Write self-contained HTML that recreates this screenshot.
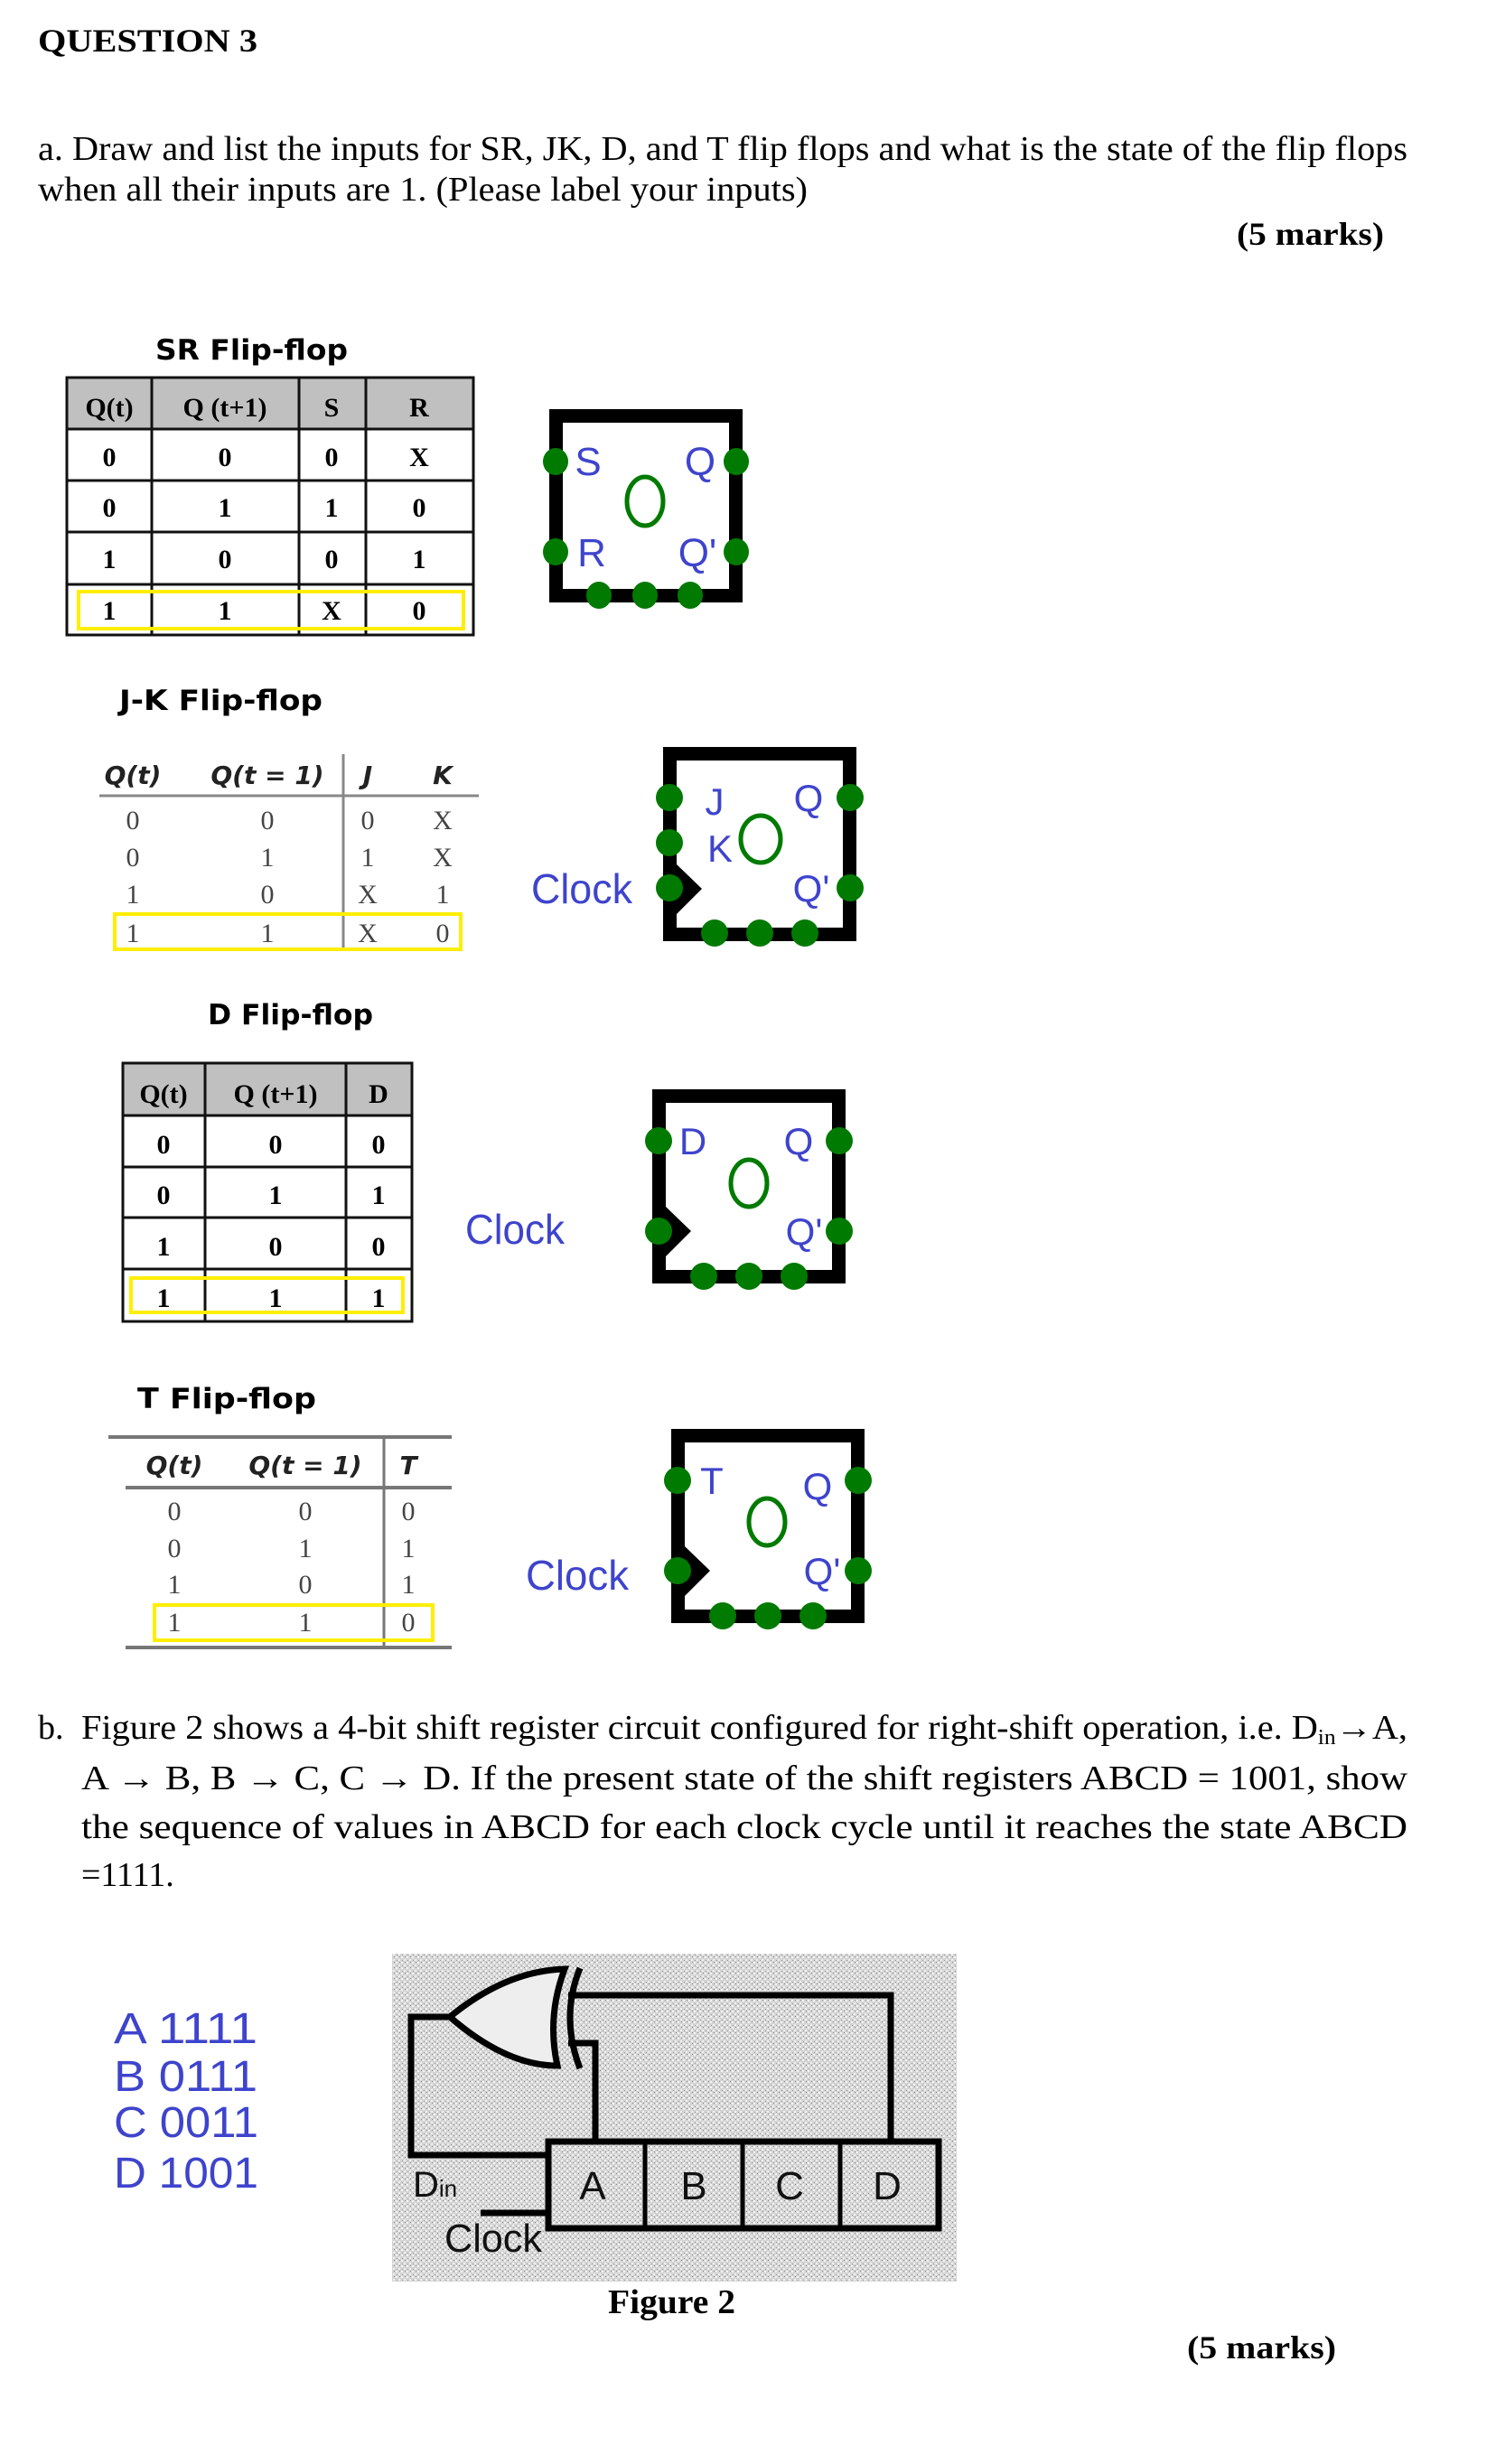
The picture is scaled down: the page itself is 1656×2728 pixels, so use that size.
<!DOCTYPE html>
<html><head><meta charset="utf-8"><style>
html,body{margin:0;padding:0;background:#fff;}
svg{display:block;}
.ser{font-family:"Liberation Serif",serif;}
.san{font-family:"Liberation Sans",sans-serif;}
.dv{font-family:"DejaVu Sans","Liberation Sans",sans-serif;}
</style></head><body>
<svg width="1656" height="2728" viewBox="0 0 1656 2728" xmlns="http://www.w3.org/2000/svg">
<defs>
<pattern id="noise" width="6" height="6" patternUnits="userSpaceOnUse">
<rect width="6" height="6" fill="#d4d4d4"/>
<rect x="0" y="0" width="2" height="2" fill="#f4f4f4"/>
<rect x="3" y="3" width="2" height="2" fill="#f0f0f0"/>
<rect x="4" y="0" width="1" height="1" fill="#888"/>
<rect x="1" y="4" width="1" height="1" fill="#999"/>
</pattern>
</defs>

<!-- Header text -->
<text class="ser" x="42" y="57" font-size="36" font-weight="bold" textLength="243" lengthAdjust="spacingAndGlyphs">QUESTION 3</text>
<text class="ser" x="42" y="177" font-size="38" textLength="1516" lengthAdjust="spacingAndGlyphs">a. Draw and list the inputs for SR, JK, D, and T flip flops and what is the state of the flip flops</text>
<text class="ser" x="42" y="222" font-size="38" textLength="852" lengthAdjust="spacingAndGlyphs">when all their inputs are 1. (Please label your inputs)</text>
<text class="ser" x="1369" y="271" font-size="36" font-weight="bold" textLength="163" lengthAdjust="spacingAndGlyphs">(5 marks)</text>

<!-- SR table -->
<text class="dv" x="172" y="398" font-size="31" font-weight="bold" textLength="213" lengthAdjust="spacingAndGlyphs">SR Flip-flop</text>
<rect x="74" y="418" width="450" height="57" fill="#c0c0c0"/>
<g stroke="#111" stroke-width="3" fill="none">
<rect x="74" y="418" width="450" height="285"/>
<line x1="74" y1="475" x2="524" y2="475"/>
<line x1="74" y1="532" x2="524" y2="532"/>
<line x1="74" y1="589" x2="524" y2="589"/>
<line x1="74" y1="647" x2="524" y2="647"/>
<line x1="168" y1="418" x2="168" y2="703"/>
<line x1="331" y1="418" x2="331" y2="703"/>
<line x1="405" y1="418" x2="405" y2="703"/>
</g>
<rect x="87" y="655" width="426" height="41" fill="none" stroke="#ffee00" stroke-width="4"/>
<g class="ser" font-size="30" font-weight="bold" text-anchor="middle">
<text x="121" y="461">Q(t)</text><text x="249" y="461">Q (t+1)</text><text x="367" y="461">S</text><text x="464" y="461">R</text>
<text x="121" y="516">0</text><text x="249" y="516">0</text><text x="367" y="516">0</text><text x="464" y="516">X</text>
<text x="121" y="572">0</text><text x="249" y="572">1</text><text x="367" y="572">1</text><text x="464" y="572">0</text>
<text x="121" y="629">1</text><text x="249" y="629">0</text><text x="367" y="629">0</text><text x="464" y="629">1</text>
<text x="121" y="686">1</text><text x="249" y="686">1</text><text x="367" y="686">X</text><text x="464" y="686">0</text>
</g>

<!-- SR box -->
<g transform="translate(-5,0)">
<rect x="620.5" y="460.5" width="199" height="199" fill="#fff" stroke="#000" stroke-width="15"/>
<g fill="#007a00">
<ellipse cx="620" cy="511" rx="14" ry="15"/><ellipse cx="620" cy="611" rx="14" ry="15"/>
<ellipse cx="820" cy="511" rx="14" ry="15"/><ellipse cx="820" cy="611" rx="14" ry="15"/>
<ellipse cx="668" cy="659" rx="14" ry="15"/><ellipse cx="719" cy="659" rx="14" ry="15"/><ellipse cx="769" cy="659" rx="14" ry="15"/>
</g>
<ellipse cx="719" cy="555" rx="20" ry="27" fill="none" stroke="#007a00" stroke-width="5"/>
<g class="san" font-size="44" fill="#3e44cc" text-anchor="middle">
<text x="656" y="526">S</text><text x="780" y="526">Q</text>
<text x="660" y="627">R</text><text x="777" y="627">Q'</text>
</g>
</g>

<!-- JK table -->
<text class="dv" x="132" y="786" font-size="31" font-weight="bold" textLength="225" lengthAdjust="spacingAndGlyphs">J-K Flip-flop</text>
<line x1="110" y1="881" x2="530" y2="881" stroke="#888" stroke-width="3"/>
<line x1="380" y1="835" x2="380" y2="1050" stroke="#888" stroke-width="3"/>
<g class="dv" font-size="28" font-weight="bold" font-style="italic" text-anchor="middle" fill="#222">
<text x="147" y="868">Q(t)</text><text x="296" y="868">Q(t = 1)</text><text x="407" y="868">J</text><text x="490" y="868">K</text>
</g>
<g class="ser" font-size="30" text-anchor="middle" fill="#444">
<text x="147" y="918">0</text><text x="296" y="918">0</text><text x="407" y="918">0</text><text x="490" y="918">X</text>
<text x="147" y="959">0</text><text x="296" y="959">1</text><text x="407" y="959">1</text><text x="490" y="959">X</text>
<text x="147" y="1000">1</text><text x="296" y="1000">0</text><text x="407" y="1000">X</text><text x="490" y="1000">1</text>
<text x="147" y="1043">1</text><text x="296" y="1043">1</text><text x="407" y="1043">X</text><text x="490" y="1043">0</text>
</g>
<rect x="127" y="1012" width="383" height="39" fill="none" stroke="#ffee00" stroke-width="4"/>

<!-- JK box -->
<text class="san" x="588" y="1000" font-size="46" fill="#3e44cc" textLength="112" lengthAdjust="spacingAndGlyphs">Clock</text>
<rect x="741.5" y="834.5" width="199" height="200" fill="#fff" stroke="#000" stroke-width="15"/>
<polygon points="749,957 777,984 749,1012" fill="#000"/>
<g fill="#007a00">
<circle cx="741" cy="883" r="15"/><circle cx="741" cy="933" r="15"/><circle cx="741" cy="983" r="15"/>
<circle cx="941" cy="883" r="15"/><circle cx="941" cy="983" r="15"/>
<circle cx="791" cy="1033" r="15"/><circle cx="841" cy="1033" r="15"/><circle cx="891" cy="1033" r="15"/>
</g>
<ellipse cx="842" cy="929" rx="22" ry="26" fill="none" stroke="#007a00" stroke-width="5"/>
<g class="san" font-size="42" fill="#3e44cc" text-anchor="middle">
<text x="791" y="902">J</text><text x="895" y="898">Q</text>
<text x="797" y="954">K</text><text x="898" y="998">Q'</text>
</g>

<!-- D table -->
<text class="dv" x="230" y="1134" font-size="31" font-weight="bold" textLength="183" lengthAdjust="spacingAndGlyphs">D Flip-flop</text>
<rect x="136" y="1177" width="320" height="58" fill="#c0c0c0"/>
<g stroke="#111" stroke-width="3" fill="none">
<rect x="136" y="1177" width="320" height="286"/>
<line x1="136" y1="1235" x2="456" y2="1235"/>
<line x1="136" y1="1292" x2="456" y2="1292"/>
<line x1="136" y1="1348" x2="456" y2="1348"/>
<line x1="136" y1="1405" x2="456" y2="1405"/>
<line x1="227" y1="1177" x2="227" y2="1463"/>
<line x1="383" y1="1177" x2="383" y2="1463"/>
</g>
<rect x="145" y="1415" width="301" height="38" fill="none" stroke="#ffee00" stroke-width="4"/>
<g class="ser" font-size="30" font-weight="bold" text-anchor="middle">
<text x="181" y="1221">Q(t)</text><text x="305" y="1221">Q (t+1)</text><text x="419" y="1221">D</text>
<text x="181" y="1277">0</text><text x="305" y="1277">0</text><text x="419" y="1277">0</text>
<text x="181" y="1333">0</text><text x="305" y="1333">1</text><text x="419" y="1333">1</text>
<text x="181" y="1390">1</text><text x="305" y="1390">0</text><text x="419" y="1390">0</text>
<text x="181" y="1447">1</text><text x="305" y="1447">1</text><text x="419" y="1447">1</text>
</g>

<!-- D box -->
<text class="san" x="515" y="1377" font-size="46" fill="#3e44cc" textLength="110" lengthAdjust="spacingAndGlyphs">Clock</text>
<g transform="translate(-4,0)">
<rect x="733.5" y="1213.5" width="199" height="200" fill="#fff" stroke="#000" stroke-width="15"/>
<polygon points="741,1336 769,1363 741,1391" fill="#000"/>
<g fill="#007a00">
<circle cx="733" cy="1263" r="15"/><circle cx="733" cy="1363" r="15"/>
<circle cx="933" cy="1263" r="15"/><circle cx="933" cy="1363" r="15"/>
<circle cx="783" cy="1413" r="15"/><circle cx="833" cy="1413" r="15"/><circle cx="883" cy="1413" r="15"/>
</g>
<ellipse cx="833" cy="1310" rx="20" ry="26" fill="none" stroke="#007a00" stroke-width="5"/>
<g class="san" font-size="42" fill="#3e44cc" text-anchor="middle">
<text x="771" y="1278">D</text><text x="888" y="1278">Q</text>
<text x="894" y="1378">Q'</text>
</g>
</g>

<!-- T table -->
<text class="dv" x="152" y="1559" font-size="31" font-weight="bold" textLength="198" lengthAdjust="spacingAndGlyphs">T  Flip-flop</text>
<g stroke="#777" stroke-width="4">
<line x1="120" y1="1591" x2="500" y2="1591"/>
<line x1="139" y1="1647" x2="500" y2="1647"/>
<line x1="139" y1="1824" x2="500" y2="1824"/>
</g>
<line x1="425" y1="1591" x2="425" y2="1824" stroke="#777" stroke-width="3"/>
<g class="dv" font-size="28" font-weight="bold" font-style="italic" text-anchor="middle" fill="#222">
<text x="193" y="1632">Q(t)</text><text x="338" y="1632">Q(t = 1)</text><text x="452" y="1632">T</text>
</g>
<g class="ser" font-size="30" text-anchor="middle" fill="#444">
<text x="193" y="1683">0</text><text x="338" y="1683">0</text><text x="452" y="1683">0</text>
<text x="193" y="1724">0</text><text x="338" y="1724">1</text><text x="452" y="1724">1</text>
<text x="193" y="1764">1</text><text x="338" y="1764">0</text><text x="452" y="1764">1</text>
<text x="193" y="1806">1</text><text x="338" y="1806">1</text><text x="452" y="1806">0</text>
</g>
<rect x="171" y="1777" width="308" height="39" fill="none" stroke="#ffee00" stroke-width="4"/>

<!-- T box -->
<text class="san" x="582" y="1760" font-size="46" fill="#3e44cc" textLength="114" lengthAdjust="spacingAndGlyphs">Clock</text>
<g transform="translate(-5,0)">
<rect x="755.5" y="1589.5" width="199" height="200" fill="#fff" stroke="#000" stroke-width="15"/>
<polygon points="763,1712 791,1739 763,1767" fill="#000"/>
<g fill="#007a00">
<circle cx="755" cy="1639" r="15"/><circle cx="755" cy="1739" r="15"/>
<circle cx="955" cy="1639" r="15"/><circle cx="955" cy="1739" r="15"/>
<circle cx="805" cy="1789" r="15"/><circle cx="855" cy="1789" r="15"/><circle cx="905" cy="1789" r="15"/>
</g>
<ellipse cx="854" cy="1685" rx="20" ry="26" fill="none" stroke="#007a00" stroke-width="5"/>
<g class="san" font-size="42" fill="#3e44cc" text-anchor="middle">
<text x="793" y="1654">T</text><text x="910" y="1660">Q</text>
<text x="915" y="1754">Q'</text>
</g>
</g>

<!-- Part b -->
<g class="ser" font-size="38">
<text x="42" y="1925">b.</text>
<text x="90" y="1925" textLength="1468" lengthAdjust="spacingAndGlyphs">Figure 2 shows a 4-bit shift register circuit configured for right-shift operation, i.e. D<tspan font-size="24" dy="6">in</tspan><tspan dy="-6">→A,</tspan></text>
<text x="90" y="1981" textLength="1468" lengthAdjust="spacingAndGlyphs">A → B,  B → C,  C → D.  If the present state of the shift registers ABCD = 1001, show</text>
<text x="90" y="2035" textLength="1468" lengthAdjust="spacingAndGlyphs">the sequence of values in ABCD for each clock cycle until it reaches the state ABCD</text>
<text x="90" y="2088">=1111.</text>
</g>

<g class="san" font-size="48" fill="#3e44cc">
<text x="126" y="2262" textLength="159" lengthAdjust="spacingAndGlyphs">A 1111</text>
<text x="126" y="2315" textLength="159" lengthAdjust="spacingAndGlyphs">B 0111</text>
<text x="126" y="2366" textLength="160" lengthAdjust="spacingAndGlyphs">C 0011</text>
<text x="126" y="2422" textLength="160" lengthAdjust="spacingAndGlyphs">D 1001</text>
</g>

<!-- Figure 2 -->
<rect x="434" y="2163" width="625" height="363" fill="url(#noise)"/>
<g stroke="#000" stroke-width="7" fill="none">
<polyline points="498,2233 455,2233 455,2386 604,2386"/>
<polyline points="629,2209 986,2209 986,2368"/>
<polyline points="629,2262 659,2262 659,2368"/>
<rect x="607" y="2371" width="432" height="96"/>
<line x1="714" y1="2371" x2="714" y2="2467" stroke-width="5"/>
<line x1="822" y1="2371" x2="822" y2="2467" stroke-width="5"/>
<line x1="930" y1="2371" x2="930" y2="2467" stroke-width="5"/>
<line x1="532" y1="2450" x2="604" y2="2450"/>
<path d="M625,2180 Q560,2182 498,2233 Q560,2287 617,2287 Q605,2233 625,2180 Z" fill="#eee"/>
<path d="M642,2179 Q620,2233 642,2290"/>
</g>
<g class="san" font-size="44" fill="#111" text-anchor="middle">
<text x="656" y="2435">A</text><text x="768" y="2435">B</text><text x="874" y="2435">C</text><text x="982" y="2435">D</text>
</g>
<text class="san" x="457" y="2432" font-size="40" fill="#111">D<tspan font-size="26">in</tspan></text>
<text class="san" x="492" y="2493" font-size="44" fill="#111" textLength="108" lengthAdjust="spacingAndGlyphs">Clock</text>

<text class="ser" x="673" y="2561" font-size="38" font-weight="bold" textLength="141" lengthAdjust="spacingAndGlyphs">Figure 2</text>
<text class="ser" x="1314" y="2611" font-size="36" font-weight="bold" textLength="165" lengthAdjust="spacingAndGlyphs">(5 marks)</text>
</svg>
</body></html>
